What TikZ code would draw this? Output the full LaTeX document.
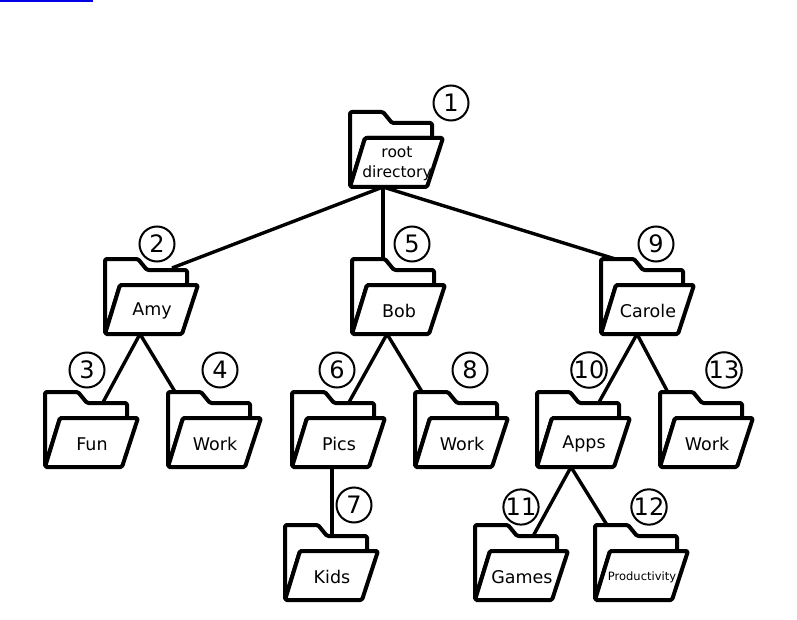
\documentclass[tikz,border=0pt]{standalone}
\usepackage{fontspec}
\setmainfont{DejaVu Sans}
\tikzset{
  x=1pt,y=-1pt,
  edge/.style={line width=3.4pt,black},
  outline/.style={line width=4pt,black,fill=white,line join=round,rounded corners=1.5pt},
  flabel/.style={inner sep=0pt,font=\fontsize{17.5}{20}\selectfont,align=center},
  numcirc/.style={circle,draw=black,line width=2pt,fill=white,minimum size=35pt,inner sep=0pt,font=\fontsize{24}{26}\selectfont},
}
% name, left x, top y, label
\newcommand{\folder}[4]{%
  \begin{scope}[shift={(#2,#3)}]
    \draw[outline] (0,75) -- (0,0) -- (33,0) -- (42,11) -- (82,11) -- (82,26) -- (15,26) -- (0,75) -- cycle;
    \draw[outline] (15,26) -- (93,26) -- (77,75) -- (0,75) -- cycle;
    \node[flabel] (#1) at (47,52) {#4};
  \end{scope}}
\begin{document}
\begin{tikzpicture}
\useasboundingbox (0,0) rectangle (797,620);
\fill[white] (0,0) rectangle (797,620);
\fill[blue!90!black] (0,0) rectangle (93,2);
% connector anchors
\coordinate (rootB) at (383,187);
\coordinate (amyT) at (172,268);
\coordinate (bobT) at (383,262);
\coordinate (caroleT) at (625,262);
\coordinate (amyB) at (140,334);
\coordinate (funT) at (101,406);
\coordinate (workaT) at (180,400);
\coordinate (bobB) at (387,334);
\coordinate (picsT) at (348,404);
\coordinate (workbT) at (427,400);
\coordinate (picsB) at (332,467);
\coordinate (kidsT) at (332,536);
\coordinate (caroleB) at (637,334);
\coordinate (appsT) at (598,404);
\coordinate (workcT) at (672,400);
\coordinate (appsB) at (571,467);
\coordinate (gamesT) at (532,538);
\coordinate (prodT) at (607,525);
\foreach \a/\b in {rootB/amyT,rootB/bobT,rootB/caroleT,amyB/funT,amyB/workaT,bobB/picsT,bobB/workbT,picsB/kidsT,caroleB/appsT,caroleB/workcT,appsB/gamesT,appsB/prodT}
  \draw[edge] (\a) -- (\b);
\folder{root}{350}{112}{\fontsize{15.5}{22}\selectfont root\\\fontsize{15.5}{22}\selectfont directory\hspace{8pt}}
\folder{amy}{105}{259}{Amy}
\folder{bob}{352}{259}{Bob}
\folder{carole}{601}{259}{Carole}
\folder{fun}{45}{392}{Fun}
\folder{worka}{168}{392}{Work}
\folder{pics}{292}{392}{Pics}
\folder{workb}{415}{392}{Work}
\folder{apps}{537}{392}{Apps}
\folder{workc}{660}{392}{Work}
\folder{kids}{285}{525}{Kids}
\folder{games}{475}{525}{Games}
\folder{prod}{595}{525}{\fontsize{11.5}{13}\selectfont Productivity}
\node[numcirc] (n1) at (451,103) {1};
\node[numcirc] (n2) at (157,244) {2};
\node[numcirc] (n5) at (412,244) {5};
\node[numcirc] (n9) at (656,244) {9};
\node[numcirc] (n3) at (87,370) {3};
\node[numcirc] (n4) at (220,370) {4};
\node[numcirc] (n6) at (337,370) {6};
\node[numcirc] (n8) at (470,370) {8};
\node[numcirc] (n10) at (589,370) {10};
\node[numcirc] (n13) at (724,370) {13};
\node[numcirc] (n7) at (354,505) {7};
\node[numcirc] (n11) at (521,507) {11};
\node[numcirc] (n12) at (649,507) {12};
\end{tikzpicture}
\end{document}
